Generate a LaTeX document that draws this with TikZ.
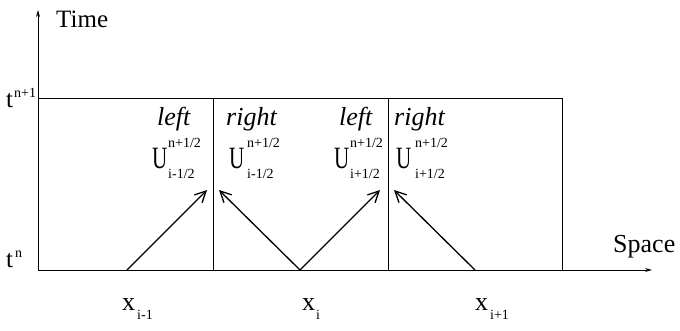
\documentclass[tikz,border=0pt]{standalone}
\usepackage{fontspec}
\setmainfont{Liberation Serif}
\usetikzlibrary{arrows.meta}
\begin{document}
\begin{tikzpicture}[x=1pt, y=-1pt]
\tikzset{axis/.style={-{Stealth[length=7pt, width=4pt]}, line width=0.9pt}}
\tikzset{cellline/.style={line width=1pt}}
\tikzset{flux/.style={-{Straight Barb[length=11pt, width=11pt]}, line width=1.3pt}}
\tikzset{lab/.style={anchor=base west, inner sep=0pt, font=\fontsize{25}{28}\selectfont}}
\tikzset{side/.style={lab, font=\fontsize{26}{28}\selectfont\itshape}}
\tikzset{bigu/.style={lab, font=\fontsize{31}{32}\selectfont}}
\tikzset{idx/.style={anchor=base west, inner sep=0pt, font=\fontsize{14}{15}\selectfont}}
\useasboundingbox (0,0) rectangle (680,330);

\coordinate (o) at (38,270);
\coordinate (tend) at (38,10);
\coordinate (send) at (652,270);
\coordinate (tl) at (38,98);
\coordinate (tr) at (562,98);
\coordinate (br) at (562,270);
\coordinate (m1t) at (213,98);
\coordinate (m1b) at (213,270);
\coordinate (m2t) at (388,98);
\coordinate (m2b) at (388,270);

% axes and cells
\draw[axis] (o) -- (tend);
\draw[axis] (o) -- (send);
\draw[cellline] (tl) -- (tr) -- (br);
\draw[cellline] (m1t) -- (m1b);
\draw[cellline] (m2t) -- (m2b);

\node[lab] (time) at (56,27) {Time};
\node[lab, font=\fontsize{26}{28}\selectfont] (space) at (613,252) {Space};
\node[lab] (tnp) at (6,107) {t};
\node[idx] (tnpsup) at (14,97) {n+1};
\node[lab] (tn) at (6,267) {t};
\node[idx] (tnsup) at (15,257) {n};

% grid points
\node[lab, font=\fontsize{26}{28}\selectfont] (xm) at (122,310) {x};
\node[idx] (xmsub) at (137,319) {i-1};
\node[lab, font=\fontsize{26}{28}\selectfont] (xc) at (302,310) {x};
\node[idx] (xcsub) at (316,319) {i};
\node[lab, font=\fontsize{26}{28}\selectfont] (xp) at (475,310) {x};
\node[idx] (xpsub) at (490,319) {i+1};

% interface states
\node[side] (l1) at (157,125) {left};
\node[bigu] (u1) at (152,168) {\scalebox{0.68}[1]{U}};
\node[idx] (u1sup) at (168,147) {n+1/2};
\node[idx] (u1sub) at (168,178) {i-1/2};

\node[side] (r1) at (226,125) {right};
\node[bigu] (u2) at (229,168) {\scalebox{0.68}[1]{U}};
\node[idx] (u2sup) at (247,147) {n+1/2};
\node[idx] (u2sub) at (247,178) {i-1/2};

\node[side] (l2) at (339,125) {left};
\node[bigu] (u3) at (334,168) {\scalebox{0.68}[1]{U}};
\node[idx] (u3sup) at (350,147) {n+1/2};
\node[idx] (u3sub) at (350,178) {i+1/2};

\node[side] (r2) at (394,125) {right};
\node[bigu] (u4) at (396,168) {\scalebox{0.68}[1]{U}};
\node[idx] (u4sup) at (415,147) {n+1/2};
\node[idx] (u4sub) at (415,178) {i+1/2};

% characteristics
\coordinate (f1) at (127,270);
\coordinate (f2) at (300,270);
\coordinate (f3) at (475,270);
\coordinate (h1) at (207,190);
\coordinate (h2) at (219,190);
\coordinate (h3) at (380,190);
\coordinate (h4) at (394,190);
\draw[flux] (f1) -- (h1);
\draw[flux] (f2) -- (h2);
\draw[flux] (f2) -- (h3);
\draw[flux] (f3) -- (h4);
\end{tikzpicture}
\end{document}
